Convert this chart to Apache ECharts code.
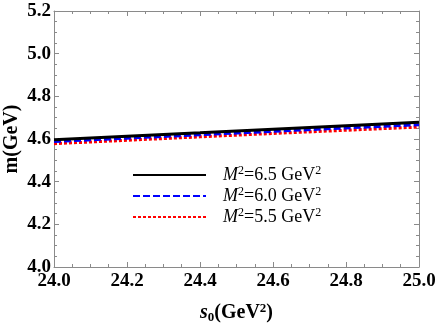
<!DOCTYPE html>
<html>
<head>
<meta charset="utf-8">
<script src="https://cdn.jsdelivr.net/npm/echarts@6/dist/echarts.min.js"></script>
<style>
  html, body { margin: 0; padding: 0; background: #fff; }
  #chart { width: 436px; height: 327px; }
</style>
</head>
<body>
<div id="chart"></div>
<script>
const s0Values = [24.0, 24.2, 24.4, 24.6, 24.8, 25.0];
const massM65 = [4.597, 4.613, 4.629, 4.646, 4.662, 4.678];
const massM60 = [4.588, 4.604, 4.620, 4.636, 4.652, 4.667];
const massM55 = [4.578, 4.594, 4.610, 4.626, 4.641, 4.656];
const legendNames = ['6.5', '6.0', '5.5'];

const serif = '"Liberation Serif", "DejaVu Serif", serif';

function pairs(ys) {
    return s0Values.map((x, i) => [x, ys[i]]);
}

document.addEventListener("DOMContentLoaded", () => {
    const chart = echarts.init(document.getElementById('chart'));

    const axisLine = { lineStyle: { color: '#8a8a8a', width: 1 } };
    const tickInside = { inside: true, length: 5, lineStyle: { color: '#8a8a8a' } };
    const minorInside = { show: true, splitNumber: 4, length: 3, lineStyle: { color: '#8a8a8a' } };
    const labelStyle = { fontFamily: serif, fontWeight: 'bold', fontSize: 19, color: '#000' };

    const option = {
        animation: false,
        backgroundColor: '#fff',
        grid: { left: 54, top: 11, right: 17, bottom: 60, outerBoundsMode: 'none' },
        legend: {
            orient: 'vertical',
            left: 127,
            top: 160,
            itemWidth: 73,
            itemHeight: 12,
            itemGap: 2,
            itemStyle: { opacity: 0 },
            data: legendNames.map(n => 'M=' + n),
            formatter: function (name) {
                return '{m|M}{sup|2}{t|=' + name.slice(2) + ' GeV}{sup|2}';
            },
            textStyle: {
                padding: [0, 0, 0, 12],
                rich: {
                    m: { fontFamily: serif, fontStyle: 'italic', fontSize: 18, lineHeight: 20, color: '#000' },
                    t: { fontFamily: serif, fontSize: 18, lineHeight: 20, color: '#000' },
                    sup: { fontFamily: serif, fontSize: 12, lineHeight: 20, color: '#000', verticalAlign: 'top' }
                }
            }
        },
        xAxis: [
            {
                type: 'value', min: 24, max: 25, interval: 0.2,
                axisLine: axisLine,
                axisTick: tickInside,
                minorTick: minorInside,
                splitLine: { show: false },
                axisLabel: Object.assign({ margin: 5, formatter: v => v.toFixed(1) }, labelStyle),
                name: '{s|s}{sub|0}{t|(GeV}{sup|2}{t|)}',
                nameLocation: 'middle',
                nameMoveOverlap: false,
                nameGap: 35,
                nameTextStyle: {
                    rich: {
                        s: { fontFamily: serif, fontStyle: 'italic', fontWeight: 'bold', fontSize: 20, color: '#000' },
                        sub: { fontFamily: serif, fontWeight: 'bold', fontSize: 13, color: '#000', verticalAlign: 'top', padding: [9, 0, 0, 0] },
                        t: { fontFamily: serif, fontWeight: 'bold', fontSize: 20, color: '#000' },
                        sup: { fontFamily: serif, fontWeight: 'bold', fontSize: 13, color: '#000', verticalAlign: 'bottom', padding: [0, 0, 9, 0] }
                    }
                }
            },
            {
                type: 'value', min: 24, max: 25, interval: 0.2, position: 'top',
                axisLine: axisLine,
                axisTick: tickInside,
                minorTick: minorInside,
                splitLine: { show: false },
                axisLabel: { show: false }
            }
        ],
        yAxis: [
            {
                type: 'value', min: 4.0, max: 5.2, interval: 0.2,
                axisLine: axisLine,
                axisTick: tickInside,
                minorTick: minorInside,
                splitLine: { show: false },
                axisLabel: Object.assign({ margin: 3, formatter: v => v.toFixed(1) }, labelStyle),
                name: 'm(GeV)',
                nameLocation: 'middle',
                nameMoveOverlap: false,
                nameGap: 32,
                nameTextStyle: { fontFamily: serif, fontWeight: 'bold', fontSize: 20, color: '#000' }
            },
            {
                type: 'value', min: 4.0, max: 5.2, interval: 0.2, position: 'right',
                axisLine: axisLine,
                axisTick: tickInside,
                minorTick: minorInside,
                splitLine: { show: false },
                axisLabel: { show: false }
            }
        ],
        series: [
            {
                name: 'M=6.5', type: 'line', symbol: 'none', z: 4,
                data: pairs(massM65),
                lineStyle: { color: '#000', width: 3, type: 'solid' },
                itemStyle: { color: '#000' }
            },
            {
                name: 'M=6.0', type: 'line', symbol: 'none', z: 3,
                data: pairs(massM60),
                lineStyle: { color: '#0000ff', width: 3, type: [7, 3] },
                itemStyle: { color: '#0000ff' }
            },
            {
                name: 'M=5.5', type: 'line', symbol: 'none', z: 2,
                data: pairs(massM55),
                lineStyle: { color: '#ff0000', width: 3, type: [3, 2] },
                itemStyle: { color: '#ff0000' }
            }
        ]
    };

    chart.setOption(option);
});
</script>
</body>
</html>
